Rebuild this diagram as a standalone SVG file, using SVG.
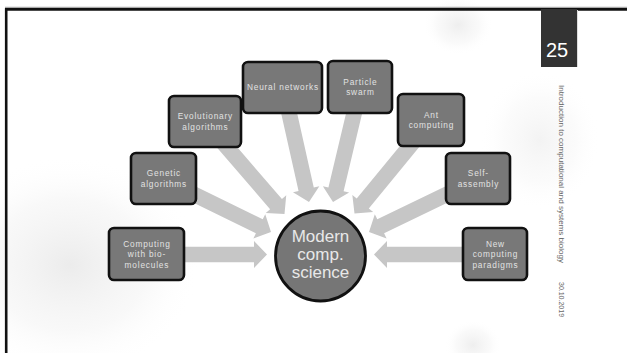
<svg xmlns="http://www.w3.org/2000/svg" xmlns:xlink="http://www.w3.org/1999/xlink" width="627" height="353" viewBox="0 0 627 353">
  <style>
    .box { fill: #787878; stroke: #111; stroke-width: 2.6; }
    .lbl { font-family: "Liberation Sans", Arial, sans-serif; font-size: 8.3px; letter-spacing: 0.8px; fill: #e2e2e2; text-anchor: middle; }
    .hub { fill: #767676; stroke: #111; stroke-width: 2.8; }
    .hubtxt { font-family: "Liberation Sans", Arial, sans-serif; font-size: 17px; fill: #e8e8e8; text-anchor: middle; }
    .side { font-family: "Liberation Sans", Arial, sans-serif; font-size: 7px; fill: #666; }
    .arrow { fill: #c6c6c6; }
  </style>
  <defs>
    <radialGradient id="blob" cx="0.5" cy="0.5" r="0.5">
      <stop offset="0" stop-color="#e4e4e4" stop-opacity="0.9"/>
      <stop offset="0.6" stop-color="#efefef" stop-opacity="0.5"/>
      <stop offset="1" stop-color="#ffffff" stop-opacity="0"/>
    </radialGradient>
    <!-- block arrow pointing along +x, tip at the origin -->
    <path id="arrow" class="arrow" d="M -116 -7.8 H -13 V -13.5 L 0 0 L -13 13.5 V 7.8 H -116 Z"/>
  </defs>

  <!-- page background with soft shading -->
  <rect width="627" height="353" fill="#ffffff"/>
  <g id="background-shading">
    <ellipse cx="70" cy="265" rx="130" ry="110" fill="url(#blob)" opacity="0.8"/>
    <ellipse cx="458" cy="25" rx="35" ry="30" fill="url(#blob)" opacity="0.7"/>
    <ellipse cx="540" cy="140" rx="60" ry="70" fill="url(#blob)" opacity="0.5"/>
    <ellipse cx="473" cy="345" rx="28" ry="25" fill="url(#blob)" opacity="0.7"/>
  </g>

  <!-- slide frame -->
  <g id="frame">
    <line x1="5" y1="7.3" x2="627" y2="7.3" stroke="#aaa" stroke-width="1.3"/>
    <line x1="5" y1="9.4" x2="627" y2="9.4" stroke="#111" stroke-width="2.6"/>
    <line x1="6.2" y1="8.2" x2="6.2" y2="353" stroke="#111" stroke-width="2.6"/>
  </g>

  <!-- page number tab and footer -->
  <g id="page-number">
    <rect x="541" y="9" width="36" height="58" fill="#333"/>
    <line x1="577.5" y1="10" x2="577.5" y2="67" stroke="#ddd" stroke-width="1"/>
    <text x="557" y="57" font-family="Liberation Sans, Arial, sans-serif" font-size="20" fill="#fff" text-anchor="middle">25</text>
  </g>
  <g id="footer">
    <text class="side" transform="translate(559,85) rotate(90)" textLength="178" lengthAdjust="spacingAndGlyphs">Introduction to computational and systems biology</text>
    <text class="side" transform="translate(559,282) rotate(90)">30.10.2019</text>
  </g>

  <!-- arrows converging on the hub -->
  <g id="connectors">
    <use xlink:href="#arrow" transform="translate(267,254.5) rotate(0)"/>
    <use xlink:href="#arrow" transform="translate(271,232) rotate(26.05)"/>
    <use xlink:href="#arrow" transform="translate(284.5,214) rotate(49.26)"/>
    <use xlink:href="#arrow" transform="translate(309,202) rotate(77.38)"/>
    <use xlink:href="#arrow" transform="translate(333,202) rotate(103.39)"/>
    <use xlink:href="#arrow" transform="translate(354.5,213.5) rotate(129.43)"/>
    <use xlink:href="#arrow" transform="translate(369,232) rotate(154.16)"/>
    <use xlink:href="#arrow" transform="translate(374,254.5) rotate(180)"/>
  </g>

  <!-- hub -->
  <g id="hub">
    <circle class="hub" cx="320.5" cy="256" r="45"/>
    <text class="hubtxt" x="320.5" y="242">Modern</text>
    <text class="hubtxt" x="320.5" y="260">comp.</text>
    <text class="hubtxt" x="320.5" y="278">science</text>
  </g>

  <!-- topic boxes -->
  <g id="bio-molecules">
    <rect class="box" x="109" y="228" width="75" height="52" rx="5"/>
    <text class="lbl" x="146.9" y="246.5">Computing</text>
    <text class="lbl" x="146.9" y="257">with bio-</text>
    <text class="lbl" x="146.9" y="267.5">molecules</text>
  </g>
  <g id="genetic">
    <rect class="box" x="131" y="153" width="65" height="51" rx="5"/>
    <text class="lbl" x="163.9" y="176.3">Genetic</text>
    <text class="lbl" x="163.9" y="186.8">algorithms</text>
  </g>
  <g id="evolutionary">
    <rect class="box" x="169" y="96" width="72" height="51" rx="5"/>
    <text class="lbl" x="205.4" y="119.3">Evolutionary</text>
    <text class="lbl" x="205.4" y="129.8">algorithms</text>
  </g>
  <g id="neural">
    <rect class="box" x="243" y="62" width="79" height="51" rx="5"/>
    <text class="lbl" x="282.9" y="90.3">Neural networks</text>
  </g>
  <g id="particle">
    <rect class="box" x="328" y="61" width="64" height="52" rx="5"/>
    <text class="lbl" x="360.4" y="84.8">Particle</text>
    <text class="lbl" x="360.4" y="95.3">swarm</text>
  </g>
  <g id="ant">
    <rect class="box" x="398" y="94" width="66" height="52" rx="5"/>
    <text class="lbl" x="431.4" y="117.8">Ant</text>
    <text class="lbl" x="431.4" y="128.3">computing</text>
  </g>
  <g id="self-assembly">
    <rect class="box" x="446" y="153" width="64" height="51" rx="5"/>
    <text class="lbl" x="478.4" y="176.3">Self-</text>
    <text class="lbl" x="478.4" y="186.8">assembly</text>
  </g>
  <g id="new-paradigms">
    <rect class="box" x="463" y="228" width="64" height="52" rx="5"/>
    <text class="lbl" x="495.4" y="246.5">New</text>
    <text class="lbl" x="495.4" y="257">computing</text>
    <text class="lbl" x="495.4" y="267.5">paradigms</text>
  </g>
</svg>
